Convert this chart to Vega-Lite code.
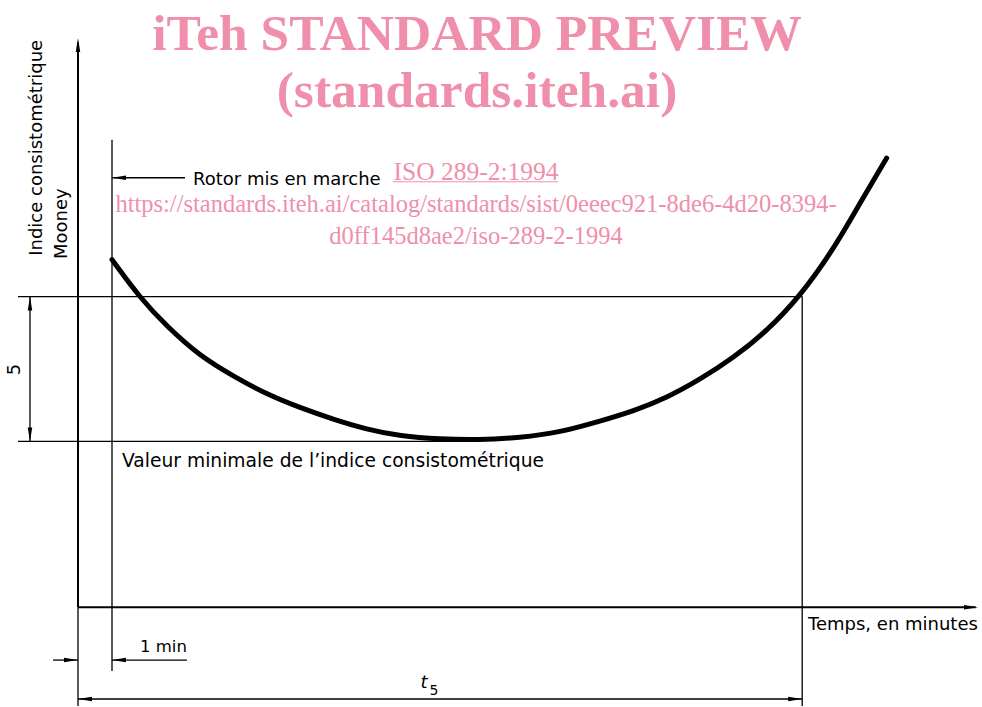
{
  "$schema": "https://vega.github.io/schema/vega-lite/v6.json",
  "width": 982,
  "height": 707,
  "padding": 0,
  "autosize": {"type": "fit", "contains": "padding"},
  "background": "white",
  "config": {"view": {"stroke": null}},
  "datasets": {
    "segments": [
      {"name": "y-axis", "t1": 0, "m1": 0, "t2": 0, "m2": 19.5, "w": 2},
      {"name": "y-axis-ext", "t1": 0, "m1": 0, "t2": 0, "m2": -3.414, "w": 1.3},
      {"name": "x-axis", "t1": 0, "m1": 0, "t2": 26.4, "m2": 0, "w": 2},
      {"name": "rotor-start", "t1": 1, "m1": 16.14, "t2": 1, "m2": -2.207, "w": 1.3},
      {"name": "t5-line", "t1": 21.3, "m1": 10.724, "t2": 21.3, "m2": -3.414, "w": 1.3},
      {"name": "min+5", "t1": -1.765, "m1": 10.724, "t2": 21.3, "m2": 10.724, "w": 1.3},
      {"name": "min", "t1": -1.765, "m1": 5.724, "t2": 11.6, "m2": 5.724, "w": 1.3},
      {"name": "dim-5", "t1": -1.412, "m1": 5.724, "t2": -1.412, "m2": 10.724, "w": 1.3},
      {"name": "dim-1min-a", "t1": -0.735, "m1": -1.828, "t2": 0, "m2": -1.828, "w": 1.3},
      {"name": "dim-1min-b", "t1": 1, "m1": -1.828, "t2": 3.206, "m2": -1.828, "w": 1.3},
      {"name": "dim-t5", "t1": 0, "m1": -3.172, "t2": 21.3, "m2": -3.172, "w": 1.3},
      {"name": "rotor-leader", "t1": 1, "m1": 14.828, "t2": 3.147, "m2": 14.828, "w": 1.3},
      {"name": "iso-underline", "t1": 9.265, "m1": 14.69, "t2": 14.118, "m2": 14.69, "w": 1.2, "pink": true}
    ],
    "curve": [
      {"t": 1.0, "m": 12.0},
      {"t": 1.824, "m": 10.679},
      {"t": 2.609, "m": 9.7},
      {"t": 3.588, "m": 8.666},
      {"t": 4.568, "m": 7.976},
      {"t": 5.55, "m": 7.345},
      {"t": 6.529, "m": 6.886},
      {"t": 7.509, "m": 6.483},
      {"t": 8.491, "m": 6.138},
      {"t": 9.471, "m": 5.907},
      {"t": 10.647, "m": 5.8},
      {"t": 11.765, "m": 5.77},
      {"t": 13.0, "m": 5.85},
      {"t": 14.176, "m": 6.034},
      {"t": 15.353, "m": 6.424},
      {"t": 16.332, "m": 6.769},
      {"t": 17.315, "m": 7.231},
      {"t": 18.294, "m": 7.862},
      {"t": 19.274, "m": 8.61},
      {"t": 20.256, "m": 9.528},
      {"t": 21.235, "m": 10.734},
      {"t": 22.215, "m": 12.345},
      {"t": 23.0, "m": 13.955},
      {"t": 23.785, "m": 15.507}
    ],
    "arrows": [
      {"t": 0, "m": 19.655, "a": 270},
      {"t": 26.47, "m": 0, "a": 0},
      {"t": 1, "m": 14.828, "a": 180},
      {"t": -1.412, "m": 10.724, "a": 270},
      {"t": -1.412, "m": 5.724, "a": 90},
      {"t": 0, "m": -1.828, "a": 0},
      {"t": 1, "m": -1.828, "a": 180},
      {"t": 0, "m": -3.172, "a": 180},
      {"t": 21.3, "m": -3.172, "a": 0}
    ],
    "labels": [
      {"text": "Rotor mis en marche", "t": 3.382, "m": 14.759, "s": 18},
      {"text": "Valeur minimale de l’indice consistométrique", "t": 1.294, "m": 5.034, "s": 18.7},
      {"text": "Temps, en minutes", "t": 21.471, "m": -0.621, "s": 18},
      {"text": "1 min", "t": 1.824, "m": -1.379, "s": 16.5}
    ],
    "vlabels": [
      {"text": "Indice consistométrique", "t": -1.206, "m": 15.862},
      {"text": "Mooney", "t": -0.471, "m": 13.241},
      {"text": "5", "t": -1.853, "m": 8.207}
    ],
    "banner": [
      {"text": "iTeh STANDARD PREVIEW", "t": 11.735, "m": 19.759},
      {"text": "(standards.iteh.ai)", "t": 11.735, "m": 17.793}
    ],
    "links": [
      {"text": "ISO 289-2:1994", "t": 11.706, "m": 15.034, "s": 25.5},
      {"text": "https://standards.iteh.ai/catalog/standards/sist/0eeec921-8de6-4d20-8394-", "t": 11.706, "m": 13.897, "s": 24.5},
      {"text": "d0ff145d8ae2/iso-289-2-1994", "t": 11.706, "m": 12.793, "s": 24.5}
    ]
  },
  "encoding": {
    "x": {"type": "quantitative", "scale": {"domain": [-2.294, 26.588], "nice": false, "zero": false}, "axis": null},
    "y": {"type": "quantitative", "scale": {"domain": [-3.414, 20.966], "nice": false, "zero": false}, "axis": null}
  },
  "layer": [
    {
      "data": {"name": "segments"},
      "mark": {"type": "rule", "strokeCap": "butt"},
      "encoding": {
        "x": {"field": "t1", "type": "quantitative"},
        "y": {"field": "m1", "type": "quantitative"},
        "x2": {"field": "t2"},
        "y2": {"field": "m2"},
        "strokeWidth": {"field": "w", "type": "quantitative", "scale": null},
        "color": {"condition": {"test": "datum.pink", "value": "#f08fab"}, "value": "black"}
      }
    },
    {
      "data": {"name": "curve"},
      "mark": {"type": "line", "color": "black", "strokeWidth": 5, "interpolate": "basis", "strokeCap": "round"},
      "encoding": {
        "x": {"field": "t", "type": "quantitative"},
        "y": {"field": "m", "type": "quantitative"},
        "order": {"field": "t", "type": "quantitative"}
      }
    },
    {
      "data": {"name": "arrows"},
      "mark": {"type": "point", "shape": "M0,0L-2,-0.32L-2,0.32Z", "filled": true, "color": "black", "opacity": 1, "size": 196},
      "encoding": {
        "x": {"field": "t", "type": "quantitative"},
        "y": {"field": "m", "type": "quantitative"},
        "angle": {"field": "a", "type": "quantitative", "scale": null}
      }
    },
    {
      "data": {"name": "labels"},
      "mark": {"type": "text", "font": "DejaVu Sans", "align": "left", "baseline": "middle", "color": "black"},
      "encoding": {
        "x": {"field": "t", "type": "quantitative"},
        "y": {"field": "m", "type": "quantitative"},
        "size": {"field": "s", "type": "quantitative", "scale": null},
        "text": {"field": "text"}
      }
    },
    {
      "data": {"name": "vlabels"},
      "mark": {"type": "text", "font": "DejaVu Sans", "fontSize": 18, "align": "center", "baseline": "middle", "angle": 270, "color": "black"},
      "encoding": {
        "x": {"field": "t", "type": "quantitative"},
        "y": {"field": "m", "type": "quantitative"},
        "text": {"field": "text"}
      }
    },
    {
      "data": {"values": [{"text": "t", "t": 10.176, "m": -2.621}]},
      "mark": {"type": "text", "font": "DejaVu Sans", "fontSize": 18, "fontStyle": "italic", "align": "center", "baseline": "middle", "color": "black"},
      "encoding": {
        "x": {"field": "t", "type": "quantitative"},
        "y": {"field": "m", "type": "quantitative"},
        "text": {"field": "text"}
      }
    },
    {
      "data": {"values": [{"text": "5", "t": 10.471, "m": -2.897}]},
      "mark": {"type": "text", "font": "DejaVu Sans", "fontSize": 14, "align": "center", "baseline": "middle", "color": "black"},
      "encoding": {
        "x": {"field": "t", "type": "quantitative"},
        "y": {"field": "m", "type": "quantitative"},
        "text": {"field": "text"}
      }
    },
    {
      "data": {"name": "banner"},
      "mark": {"type": "text", "font": "Liberation Serif", "fontWeight": "bold", "fontSize": 51.5, "align": "center", "baseline": "middle", "color": "#f08fab"},
      "encoding": {
        "x": {"field": "t", "type": "quantitative"},
        "y": {"field": "m", "type": "quantitative"},
        "text": {"field": "text"}
      }
    },
    {
      "data": {"name": "links"},
      "mark": {"type": "text", "font": "Liberation Serif", "align": "center", "baseline": "middle", "color": "#f08fab"},
      "encoding": {
        "x": {"field": "t", "type": "quantitative"},
        "y": {"field": "m", "type": "quantitative"},
        "size": {"field": "s", "type": "quantitative", "scale": null},
        "text": {"field": "text"}
      }
    }
  ]
}
